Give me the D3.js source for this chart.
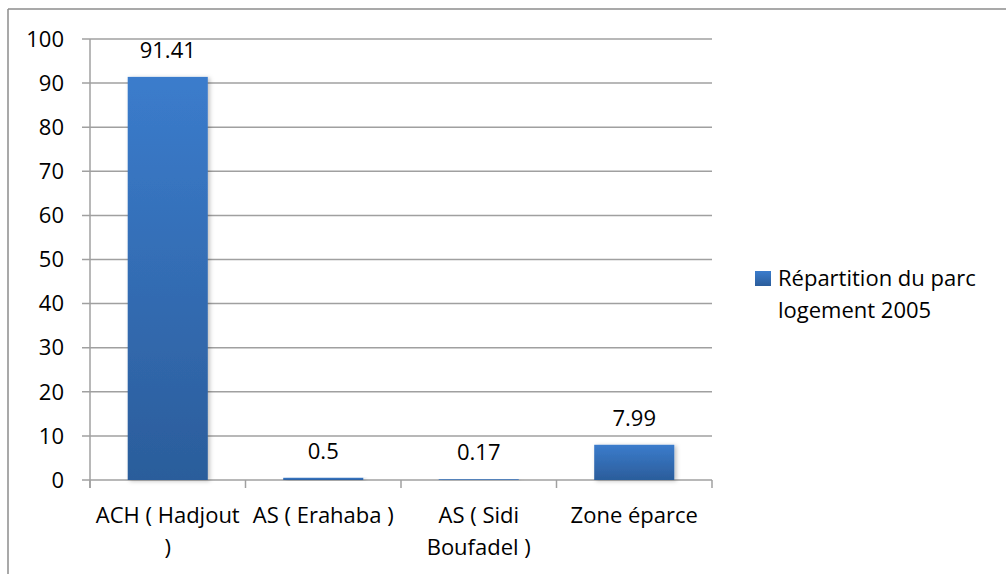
<!DOCTYPE html>
<html>
<head>
<meta charset="utf-8">
<script src="https://cdn.jsdelivr.net/npm/d3@7"></script>
<style>
  html, body { margin: 0; padding: 0; background: #fff; }
  svg { display: block; }
  text { font-family: "Open Sans", Lato, "Liberation Sans", sans-serif; fill: #000; }
</style>
</head>
<body>
<svg id="chart" width="1006" height="574"></svg>
<script>
// Housing stock distribution, 2005 (%)
const categories = ["ACH ( Hadjout )", "AS ( Erahaba )", "AS ( Sidi Boufadel )", "Zone éparce"];
const categoryLines = [["ACH ( Hadjout", ")"], ["AS ( Erahaba )"], ["AS ( Sidi", "Boufadel )"], ["Zone éparce"]];
const values = [91.41, 0.5, 0.17, 7.99];
const yTicks = [0, 10, 20, 30, 40, 50, 60, 70, 80, 90, 100];
const seriesName = ["Répartition du parc", "logement 2005"];

const FS = 22;
const svg = d3.select("#chart");

// Gradient fill for the bars
const defs = svg.append("defs");
const grad = defs.append("linearGradient").attr("id", "barGrad")
  .attr("x1", 0).attr("y1", 0).attr("x2", 0).attr("y2", 1);
grad.append("stop").attr("offset", "0%").attr("stop-color", "#3b7ccc");
grad.append("stop").attr("offset", "100%").attr("stop-color", "#2b5d9b");
const lgGrad = defs.append("linearGradient").attr("id", "legGrad")
  .attr("x1", 0).attr("y1", 0).attr("x2", 0).attr("y2", 1);
lgGrad.append("stop").attr("offset", "0%").attr("stop-color", "#3b7ccc");
lgGrad.append("stop").attr("offset", "100%").attr("stop-color", "#2b5d9b");
const shadow = defs.append("filter").attr("id", "barShadow")
  .attr("x", "-10%").attr("y", "-10%").attr("width", "130%").attr("height", "130%");
shadow.append("feDropShadow").attr("dx", 2).attr("dy", 1).attr("stdDeviation", 2)
  .attr("flood-color", "#000").attr("flood-opacity", 0.25);

// Chart frame (top and left edges)
svg.append("line").attr("x1", 8).attr("x2", 1006).attr("y1", 9).attr("y2", 9)
  .attr("stroke", "#8c8c8c").attr("stroke-width", 1.5);
svg.append("line").attr("x1", 8).attr("x2", 8).attr("y1", 9).attr("y2", 574)
  .attr("stroke", "#8c8c8c").attr("stroke-width", 1.5);

const plot = { left: 90, right: 712, top: 39, bottom: 480 };

const x = d3.scaleBand().domain(categories).range([plot.left, plot.right]).paddingInner(0).paddingOuter(0);
const y = d3.scaleLinear().domain([0, 100]).range([plot.bottom, plot.top]);
const barW = x.bandwidth() * 0.515;

// Horizontal gridlines
svg.append("g").selectAll("line").data(yTicks).join("line")
  .attr("x1", plot.left - 8).attr("x2", plot.right)
  .attr("y1", d => y(d)).attr("y2", d => y(d))
  .attr("stroke", "#a0a0a0").attr("stroke-width", 1.5);

// Y axis line
svg.append("line").attr("x1", plot.left).attr("x2", plot.left)
  .attr("y1", plot.top).attr("y2", plot.bottom + 8)
  .attr("stroke", "#a0a0a0").attr("stroke-width", 1.5);

// Y tick labels
svg.append("g").selectAll("text").data(yTicks).join("text")
  .attr("x", 64).attr("y", d => y(d)).attr("dy", "0.35em")
  .attr("text-anchor", "end").attr("font-size", FS)
  .text(d => d);

// Category tick marks below the axis
const catEdges = categories.map(c => x(c)).concat([plot.right]);
svg.append("g").selectAll("line").data(catEdges).join("line")
  .attr("x1", d => d).attr("x2", d => d)
  .attr("y1", plot.bottom).attr("y2", plot.bottom + 8)
  .attr("stroke", "#a0a0a0").attr("stroke-width", 1.5);

// Bars
svg.append("g").selectAll("rect").data(values).join("rect")
  .attr("x", (d, i) => x(categories[i]) + (x.bandwidth() - barW) / 2)
  .attr("width", barW)
  .attr("y", d => y(d))
  .attr("height", d => plot.bottom - y(d))
  .attr("fill", "url(#barGrad)")
  .attr("filter", "url(#barShadow)");

// Value labels
svg.append("g").selectAll("text").data(values).join("text")
  .attr("x", (d, i) => x(categories[i]) + x.bandwidth() / 2)
  .attr("y", d => y(d) - 19)
  .attr("text-anchor", "middle").attr("font-size", FS)
  .text(d => d);

// Category labels
const catG = svg.append("g").selectAll("text").data(categoryLines).join("text")
  .attr("x", (d, i) => x(categories[i]) + x.bandwidth() / 2)
  .attr("y", 523)
  .attr("text-anchor", "middle").attr("font-size", FS);
catG.selectAll("tspan").data(d => d).join("tspan")
  .attr("x", function () { return d3.select(this.parentNode).attr("x"); })
  .attr("dy", (d, i) => i === 0 ? 0 : 32)
  .text(d => d);

// Legend
svg.append("rect").attr("x", 755).attr("y", 271).attr("width", 16).attr("height", 15)
  .attr("fill", "url(#legGrad)");
svg.append("text").attr("x", 778).attr("y", 286).attr("font-size", FS)
  .selectAll("tspan").data(seriesName).join("tspan")
  .attr("x", 778).attr("dy", (d, i) => i === 0 ? 0 : 32)
  .text(d => d);
</script>
</body>
</html>
